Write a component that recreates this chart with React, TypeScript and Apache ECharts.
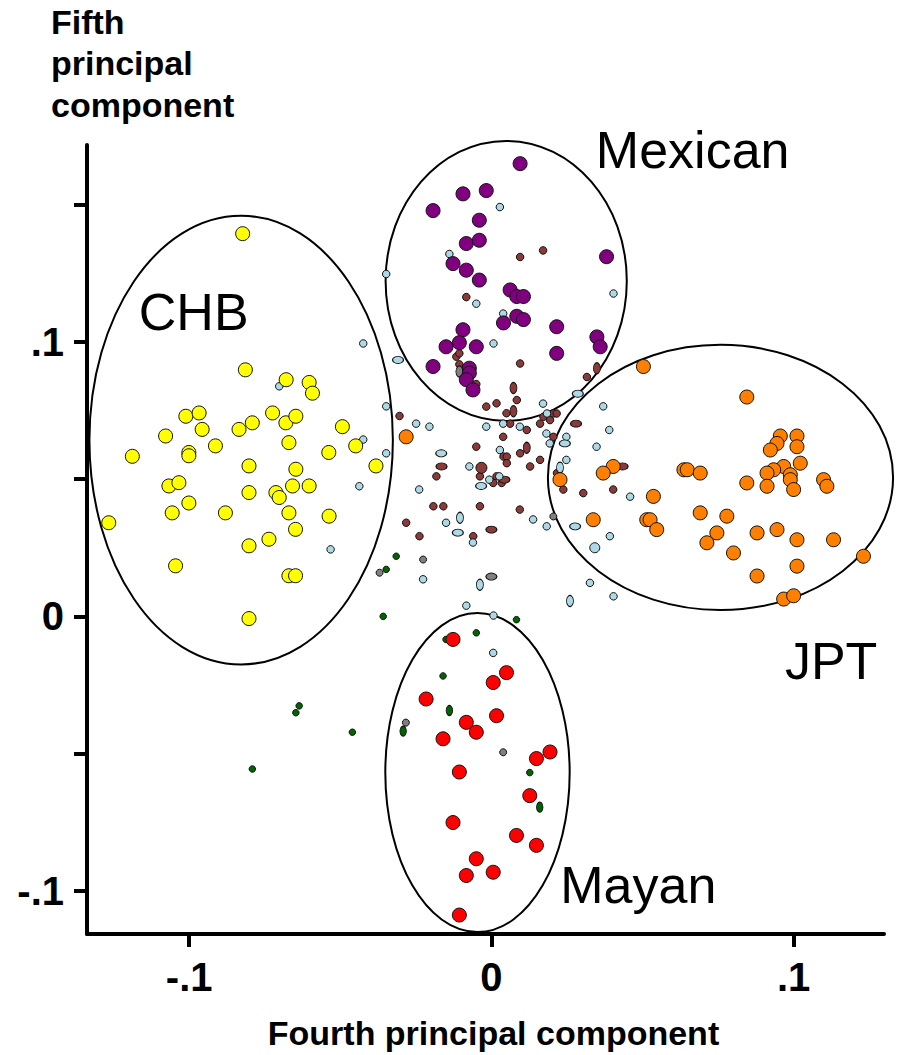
import React, { useEffect, useRef } from "react";
import * as echarts from "echarts";

// Principal-component scores, [fourth PC, fifth PC]
const chbPoints: number[][] = [
  [-0.0823, 0.1394], [-0.0814, 0.0898], [-0.0679, 0.0862], [-0.0603, 0.0852], [-0.0592, 0.0813],
  [-0.1011, 0.0729], [-0.0967, 0.0741], [-0.0957, 0.0681], [-0.1078, 0.0657], [-0.0835, 0.0681],
  [-0.0791, 0.0705], [-0.0724, 0.0741], [-0.068, 0.0705], [-0.0647, 0.0729], [-0.0493, 0.0691],
  [-0.067, 0.0633], [-0.0913, 0.0621], [-0.1001, 0.0597], [-0.1001, 0.0585], [-0.1188, 0.0583],
  [-0.0538, 0.0597], [-0.0449, 0.0621], [-0.0382, 0.0548], [-0.0802, 0.0548], [-0.0647, 0.0536],
  [-0.1067, 0.0475], [-0.1034, 0.0487], [-0.0802, 0.0451], [-0.0713, 0.0451], [-0.0702, 0.0433],
  [-0.0658, 0.0475], [-0.0603, 0.0475], [-0.1001, 0.0413], [-0.1266, 0.0341], [-0.1056, 0.0377],
  [-0.088, 0.0377], [-0.067, 0.0377], [-0.0537, 0.0365], [-0.0648, 0.0317], [-0.0736, 0.0281],
  [-0.0802, 0.0257], [-0.1045, 0.0184], [-0.067, 0.0148], [-0.0648, 0.0148], [-0.0802, -0.0008],
];

const mexicanPoints: number[][] = [
  [0.0095, 0.1649], [-0.0094, 0.1539], [-0.0017, 0.1551], [-0.0193, 0.1478], [-0.004, 0.1443],
  [-0.0083, 0.1358], [-0.004, 0.137], [0.0381, 0.131], [-0.0127, 0.1285], [-0.0083, 0.1261],
  [-0.004, 0.1225], [0.0062, 0.1189], [0.0084, 0.1165], [0.0106, 0.1165], [0.0084, 0.1093],
  [0.0106, 0.1081], [0.004, 0.1069], [0.0216, 0.1055], [-0.0094, 0.1044], [-0.0106, 0.0997],
  [-0.015, 0.0982], [-0.005, 0.0982], [0.0349, 0.1018], [0.036, 0.0982], [0.0216, 0.0958],
  [-0.0193, 0.091], [-0.0073, 0.0904], [-0.0073, 0.0886], [-0.0083, 0.0862], [-0.0061, 0.0825],
];

const jptPoints: number[][] = [
  [0.0503, 0.091], [0.0845, 0.0799], [0.0956, 0.0657], [0.1011, 0.0657], [0.0945, 0.063],
  [0.1011, 0.0618], [0.0923, 0.0606], [0.1022, 0.0558], [0.0967, 0.0546], [0.0934, 0.0534],
  [0.0912, 0.0522], [0.0989, 0.0516], [0.0989, 0.0498], [0.1, 0.0462], [0.0912, 0.0474],
  [0.0845, 0.0486], [0.1099, 0.0498], [0.111, 0.0474], [0.0403, 0.0546], [0.037, 0.0522],
  [0.0637, 0.0534], [0.0648, 0.0534], [0.0691, 0.0522], [0.0227, 0.0498], [0.0536, 0.0437],
  [0.0691, 0.0377], [0.0779, 0.0365], [0.0337, 0.0352], [0.0514, 0.0352], [0.0525, 0.0352],
  [0.0547, 0.0316], [0.0746, 0.0304], [0.0713, 0.0268], [0.0879, 0.0304], [0.0945, 0.0316],
  [0.1011, 0.0279], [0.1132, 0.0279], [0.0801, 0.0231], [0.1231, 0.0219], [0.1011, 0.0183],
  [0.0879, 0.0147], [0.0967, 0.0063], [0.1, 0.0075], [-0.0282, 0.0654],
];

const mayanPoints: number[][] = [
  [-0.0127, -0.0084], [0.005, -0.0205], [0.0006, -0.0241], [-0.0216, -0.0301], [0.0017, -0.0362],
  [-0.0083, -0.0386], [-0.005, -0.0422], [-0.016, -0.0446], [0.0194, -0.0494], [0.0149, -0.0518],
  [-0.0106, -0.0567], [0.0127, -0.0653], [-0.0127, -0.0751], [0.0083, -0.0798], [0.0149, -0.0834],
  [-0.005, -0.0883], [-0.0083, -0.0944], [0.0006, -0.0932], [-0.0106, -0.1088],
];

// Admixed samples, split by marker shape
const lightBlueRound: number[][] = [
  [0.0028, 0.1491], [-0.0139, 0.132], [-0.0348, 0.1247], [-0.005, 0.1139], [0.0039, 0.1103],
  [0.0404, 0.1176], [0.0007, 0.0994], [-0.0348, 0.0765], [0.0171, 0.0775], [0.037, 0.0765],
  [-0.0424, 0.0994], [-0.0702, 0.0838], [-0.0249, 0.0702], [-0.0205, 0.0691], [-0.0424, 0.0644],
  [-0.0348, 0.0594], [-0.0437, 0.0474], [-0.0239, 0.0462], [-0.0017, 0.0691], [0.0039, 0.0702],
  [0.0094, 0.0691], [0.0184, 0.0739], [0.0182, 0.0666], [0.0193, 0.063], [0.0248, 0.0654],
  [0.0248, 0.057], [0.0348, 0.0618], [0.039, 0.0679], [0.0028, 0.0606], [-0.0073, 0.0546],
  [-0.0007, 0.0498], [0.0026, 0.051], [-0.015, 0.0341], [-0.0061, 0.0269], [0.0138, 0.0353],
  [0.0183, 0.0328], [-0.0226, 0.0135], [-0.0083, 0.0039], [0.0007, 0.0003], [0.0326, 0.0122],
  [-0.0532, 0.0244], [0.0392, 0.0292], [0.0459, 0.0436], [0.0404, 0.0073], [0.0006, -0.0133],
];
const lightBlueWide: number[][] = [
  [-0.0309, 0.0934], [0.0286, 0.0811], [0.0243, 0.063], [-0.0166, 0.0594], [-0.0034, 0.0475],
  [-0.0111, 0.0305], [0.0277, 0.0328],
];
const lightBlueTall: number[][] = [
  [0.0227, 0.0542], [-0.0104, 0.0359], [-0.0038, 0.0115], [0.026, 0.0056],
];
const lightBlueLarge: number[][] = [[0.0342, 0.025]];

const maroonRound: number[][] = [
  [0.0171, 0.1333], [0.0095, 0.1309], [-0.0083, 0.1163], [0.0095, 0.0921], [-0.0116, 0.0946],
  [-0.0106, 0.0958], [-0.0106, 0.0918], [-0.005, 0.0846], [0.0084, 0.0788], [0.0017, 0.0776],
  [-0.0017, 0.0764], [0.005, 0.074], [0.0316, 0.0872], [-0.0304, 0.073], [0.0161, 0.0702],
  [0.0062, 0.0702], [0.0194, 0.0715], [0.0205, 0.0739], [0.0216, 0.0739], [0.0172, 0.0727],
  [0.0117, 0.0679], [0.0205, 0.0654], [0.0039, 0.0654], [-0.005, 0.0618], [0.004, 0.0582],
  [0.0051, 0.0582], [0.0095, 0.0594], [0.0051, 0.0558], [0.0161, 0.057], [0.0128, 0.0546],
  [-0.0038, 0.051], [0.0017, 0.051], [-0.0182, 0.051], [0.0006, 0.0486], [0.0034, 0.0486],
  [0.0217, 0.0522], [0.0238, 0.0462], [0.0304, 0.0449], [-0.0192, 0.0401], [-0.0159, 0.0401],
  [-0.0038, 0.0401], [0.0094, 0.0389], [-0.0282, 0.0341], [-0.0238, 0.0292], [-0.006, 0.0292],
  [0.0403, 0.0462],
];
const maroonWide: number[][] = [
  [0.028, 0.0702], [-0.0165, 0.0546], [0.0043, 0.0498], [0.0, 0.0316], [0.0434, 0.0546],
];
const maroonTall: number[][] = [
  [0.0073, 0.0832], [0.0073, 0.0747], [0.0349, 0.0904], [0.0117, 0.0614],
];
const maroonLarge: number[][] = [[-0.0033, 0.0541]];

const greenRound: number[][] = [
  [-0.0358, 0.0], [0.0083, -0.0012], [-0.005, -0.006], [-0.015, -0.0084], [-0.016, -0.0217],
  [-0.0636, -0.0326], [-0.0647, -0.0351], [-0.046, -0.0422], [-0.0791, -0.0556], [0.0127, -0.0569],
  [-0.0315, 0.0219], [-0.0348, 0.0171],
];
const greenTall: number[][] = [[-0.0139, -0.0343], [-0.0292, -0.0418], [0.016, -0.0695]];

const grayRound: number[][] = [
  [-0.0283, -0.0387], [0.0039, -0.0495], [-0.037, 0.0159], [-0.0226, 0.0207], [0.0205, 0.0364],
];
const grayWide: number[][] = [[0.0, 0.0145]];
const grayTall: number[][] = [[-0.0106, 0.0892]];

// Population ellipses: [centre x, centre y, semi-axis x, semi-axis y]
const groupEllipses: number[][] = [
  [-0.0828, 0.0642, 0.0502, 0.0817],
  [0.0049, 0.1222, 0.0399, 0.051],
  [0.0758, 0.0506, 0.0571, 0.0483],
  [-0.0046, -0.0569, 0.0305, 0.0581],
];
const groupNames = ["CHB", "Mexican", "JPT", "Mayan"];
const groupLabelPos: number[][] = [
  [-0.0985, 0.111],
  [0.0666, 0.1699],
  [0.1124, -0.0163],
  [0.0486, -0.098],
];

const xTicks = [-0.1, 0, 0.1];
const yTicks = [-0.1, -0.05, 0, 0.05, 0.1, 0.15];
const yTickLabels = [-0.1, 0, 0.1];

const FONT = "'Liberation Sans', Arial, Helvetica, sans-serif";

const fmt = (v: number) => (v === 0 ? "0" : String(v).replace("0.", "."));

function scatter(data: number[][], color: string, size: number | number[], z: number) {
  return {
    type: "scatter",
    data,
    symbol: "circle",
    symbolSize: size,
    z,
    itemStyle: { color, borderColor: "#111", borderWidth: 1, opacity: 1 },
    emphasis: { disabled: true },
  };
}

export default function App() {
  const ref = useRef<HTMLDivElement>(null);

  useEffect(() => {
    document.body.style.margin = "0";
    const chart = echarts.init(ref.current!, null, { renderer: "svg" });
    const small = 7.5;
    chart.setOption({
      animation: false,
      backgroundColor: "#fff",
      title: {
        text: "Fifth\nprincipal\ncomponent",
        left: 51,
        top: 1,
        padding: 0,
        textStyle: { fontFamily: FONT, fontSize: 34, fontWeight: "bold", color: "#000", lineHeight: 41.5 },
      },
      grid: { left: 87, right: 17, top: 145, bottom: 115 },
      xAxis: {
        type: "value",
        min: -0.1338,
        max: 0.1299,
        name: "Fourth principal component",
        nameLocation: "middle",
        nameGap: 82,
        nameTextStyle: {
          fontFamily: FONT,
          fontSize: 34,
          fontWeight: "bold",
          color: "#000",
          padding: [0, 0, 0, 16],
        },
        splitLine: { show: false },
        axisLine: { onZero: false, lineStyle: { color: "#000", width: 4 } },
        axisTick: { customValues: xTicks, length: 13, lineStyle: { color: "#000", width: 4 } },
        axisLabel: {
          customValues: xTicks,
          formatter: fmt,
          margin: 23,
          fontFamily: FONT,
          fontSize: 40,
          fontWeight: "bold",
          color: "#000",
        },
      },
      yAxis: {
        type: "value",
        min: -0.1157,
        max: 0.1717,
        splitLine: { show: false },
        axisLine: { onZero: false, lineStyle: { color: "#000", width: 4 } },
        axisTick: { customValues: yTicks, length: 13, lineStyle: { color: "#000", width: 4 } },
        axisLabel: {
          customValues: yTickLabels,
          formatter: fmt,
          margin: 23,
          fontFamily: FONT,
          fontSize: 40,
          fontWeight: "bold",
          color: "#000",
        },
      },
      series: [
        {
          type: "custom",
          data: groupEllipses,
          encode: { x: 0, y: 1 },
          clip: false,
          z: 1,
          silent: true,
          renderItem: (_p: any, api: any) => {
            const c = api.coord([api.value(0), api.value(1)]);
            const s = api.size([api.value(2), api.value(3)]);
            return {
              type: "ellipse",
              shape: { cx: c[0], cy: c[1], rx: s[0], ry: s[1] },
              style: { fill: "none", stroke: "#000", lineWidth: 2 },
            };
          },
        },
        scatter(maroonRound, "#8b3a3a", small, 2),
        scatter(maroonWide, "#8b3a3a", [11, 7], 2),
        scatter(maroonTall, "#8b3a3a", [7, 11], 2),
        scatter(maroonLarge, "#8b3a3a", 11, 2),
        scatter(lightBlueRound, "#add8e6", small, 3),
        scatter(lightBlueWide, "#add8e6", [11, 7], 3),
        scatter(lightBlueTall, "#add8e6", [7, 11], 3),
        scatter(lightBlueLarge, "#add8e6", 10, 3),
        scatter(greenRound, "#006400", 6.5, 3),
        scatter(greenTall, "#006400", [6.5, 10], 3),
        scatter(grayRound, "#808080", 7, 3),
        scatter(grayWide, "#808080", [11, 7], 3),
        scatter(grayTall, "#808080", [7, 11], 3),
        scatter(chbPoints, "#ffff00", 14, 4),
        scatter(mexicanPoints, "#800080", 14, 4),
        scatter(jptPoints, "#ff8000", 14, 4),
        scatter(mayanPoints, "#ff0000", 14, 4),
        {
          type: "custom",
          data: groupLabelPos,
          encode: { x: 0, y: 1 },
          clip: false,
          z: 5,
          silent: true,
          renderItem: (p: any, api: any) => {
            const c = api.coord([api.value(0), api.value(1)]);
            return {
              type: "text",
              x: c[0],
              y: c[1],
              style: {
                text: groupNames[p.dataIndex],
                fontFamily: FONT,
                fontSize: 52,
                fill: "#000",
                align: "center",
                verticalAlign: "middle",
              },
            };
          },
        },
      ],
    });
    return () => chart.dispose();
  }, []);

  return (
    <div
      ref={ref}
      style={{ position: "absolute", left: 0, top: 0, width: 901, height: 1055 }}
    />
  );
}
